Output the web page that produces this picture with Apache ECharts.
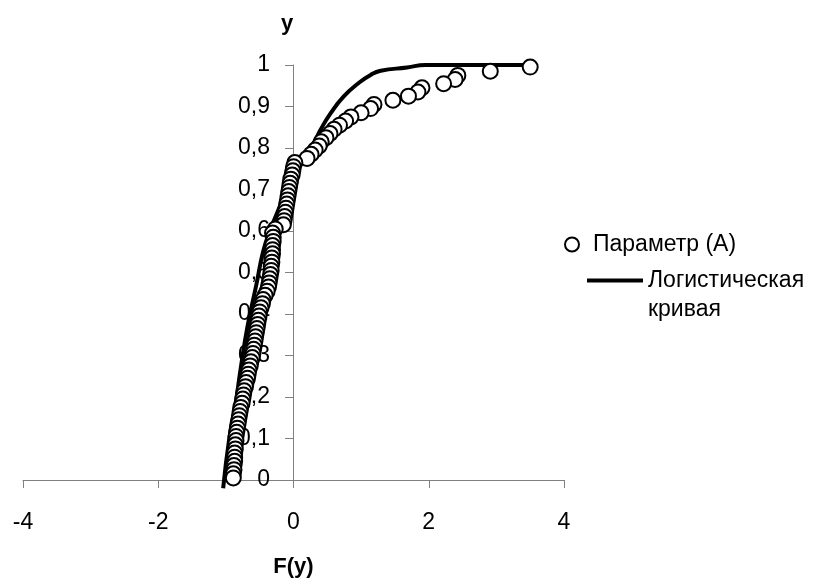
<!DOCTYPE html>
<html>
<head>
<meta charset="utf-8">
<script src="https://cdn.jsdelivr.net/npm/echarts@6/dist/echarts.min.js"></script>
<style>
  html, body { margin: 0; padding: 0; background: #fff; }
  #chart { width: 819px; height: 582px; }
</style>
</head>
<body>
<div id="chart"></div>
<script>
// данные: y — эмпирическая вероятность, F(y) — значения параметра
var yParam = [
  0.995, 0.985, 0.975, 0.965, 0.955, 0.945, 0.935, 0.925, 0.915, 0.905,
  0.895, 0.885, 0.875, 0.865, 0.855, 0.845, 0.835, 0.825, 0.815, 0.805,
  0.795, 0.785, 0.775, 0.765, 0.755, 0.745, 0.735, 0.725, 0.715, 0.705,
  0.695, 0.685, 0.675, 0.665, 0.655, 0.645, 0.635, 0.625, 0.615, 0.605,
  0.595, 0.585, 0.575, 0.565, 0.555, 0.545, 0.535, 0.525, 0.515, 0.505,
  0.495, 0.485, 0.475, 0.465, 0.455, 0.445, 0.435, 0.425, 0.415, 0.405,
  0.395, 0.385, 0.375, 0.365, 0.355, 0.345, 0.335, 0.325, 0.315, 0.305,
  0.295, 0.285, 0.275, 0.265, 0.255, 0.245, 0.235, 0.225, 0.215, 0.205,
  0.195, 0.185, 0.175, 0.165, 0.155, 0.145, 0.135, 0.125, 0.115, 0.105,
  0.095, 0.085, 0.075, 0.065, 0.055, 0.045, 0.035, 0.025, 0.015, 0.005
];
var xParam = [
  3.50, 2.91, 2.43, 2.39, 2.22, 1.90, 1.84, 1.70, 1.47, 1.19,
  1.14, 1.00, 0.85, 0.77, 0.68, 0.60, 0.54, 0.48, 0.41, 0.38,
  0.32, 0.26, 0.20, 0.02, 0.00, -0.01, -0.02, -0.04, -0.05, -0.06,
  -0.07, -0.08, -0.09, -0.10, -0.11, -0.12, -0.13, -0.14, -0.15, -0.27,
  -0.31, -0.30, -0.30, -0.31, -0.31, -0.31, -0.32, -0.32, -0.33, -0.33,
  -0.34, -0.35, -0.36, -0.37, -0.39, -0.42, -0.45, -0.46, -0.48, -0.50,
  -0.51, -0.52, -0.53, -0.54, -0.55, -0.56, -0.57, -0.58, -0.59, -0.60,
  -0.61, -0.63, -0.64, -0.66, -0.67, -0.68, -0.70, -0.71, -0.73, -0.74,
  -0.75, -0.76, -0.78, -0.79, -0.80, -0.81, -0.82, -0.83, -0.84, -0.85,
  -0.85, -0.86, -0.86, -0.87, -0.87, -0.87, -0.88, -0.88, -0.89, -0.89
];

// логистическая кривая
var xLogit = [-1.04, -0.95, -0.86, -0.78, -0.68, -0.55, -0.45, -0.35, -0.20, -0.05,
  0.10, 0.30, 0.40, 0.55, 0.74, 0.96, 1.14, 1.29, 1.68, 1.95, 3.50];
var yLogit = [-0.02, 0.10, 0.18, 0.27, 0.37, 0.47, 0.55, 0.60, 0.66, 0.72,
  0.76, 0.812, 0.844, 0.884, 0.924, 0.956, 0.976, 0.986, 0.994, 1.0, 1.0];

var nameParam = 'Параметр (A)';
var nameLogit = 'Логистическая кривая';

var chart = echarts.init(document.getElementById('chart'), null, { renderer: 'canvas' });

var font = 'Liberation Sans, Arial, sans-serif';
var axisGray = '#808080';

var option = {
  backgroundColor: '#ffffff',
  animation: false,
  textStyle: { fontFamily: font },
  grid: { left: 23, right: 255, top: 65, bottom: 102, containLabel: false, outerBoundsMode: 'none' },
  legend: [{
    data: [nameParam],
    orient: 'vertical',
    left: 559,
    top: 228,
    itemWidth: 32,
    itemHeight: 14,
    textStyle: { fontSize: 23, color: '#000', fontFamily: font }
  }, {
    data: [nameLogit],
    orient: 'vertical',
    left: 582,
    top: 232,
    itemWidth: 56,
    itemHeight: 4,
    icon: 'rect',
    // пустая первая строка, чтобы линия стояла напротив первой строки подписи
    formatter: function () { return '\nЛогистическая\nкривая'; },
    textStyle: { fontSize: 23, lineHeight: 29, color: '#000', fontFamily: font }
  }],
  xAxis: {
    type: 'value',
    min: -4,
    max: 4,
    interval: 2,
    name: 'F(y)',
    nameLocation: 'middle',
    nameGap: 76,
    nameTextStyle: { fontSize: 22, fontWeight: 'bold', color: '#000' },
    axisLine: { lineStyle: { color: axisGray, width: 1 } },
    axisTick: { length: 8, lineStyle: { color: axisGray } },
    axisLabel: { fontSize: 23, color: '#000', margin: 31 },
    splitLine: { show: false }
  },
  yAxis: {
    type: 'value',
    min: 0,
    max: 1,
    interval: 0.1,
    position: 'left',
    offset: -270,
    name: 'y',
    nameLocation: 'end',
    nameGap: 30,
    nameTextStyle: { fontSize: 22, fontWeight: 'bold', color: '#000', padding: [0, 12, 0, 0] },
    axisLine: { onZero: false, lineStyle: { color: axisGray, width: 1 } },
    axisTick: { length: 8, lineStyle: { color: axisGray } },
    axisLabel: {
      fontSize: 23,
      color: '#000',
      margin: 23,
      formatter: function (v) { return String(Math.round(v * 10) / 10).replace('.', ','); }
    },
    splitLine: { show: false }
  },
  series: [{
    name: nameParam,
    type: 'scatter',
    z: 3,
    symbol: 'circle',
    symbolSize: 15,
    itemStyle: { color: '#ffffff', borderColor: '#000000', borderWidth: 2, opacity: 1 },
    data: xParam.map(function (x, i) { return [x, yParam[i]]; })
  }, {
    name: nameLogit,
    type: 'line',
    z: 2,
    smooth: true,
    showSymbol: false,
    symbol: 'none',
    clip: false,
    lineStyle: { color: '#000000', width: 4 },
    itemStyle: { color: '#000000' },
    data: xLogit.map(function (x, i) { return [x, yLogit[i]]; })
  }]
};

chart.setOption(option);
</script>
</body>
</html>
